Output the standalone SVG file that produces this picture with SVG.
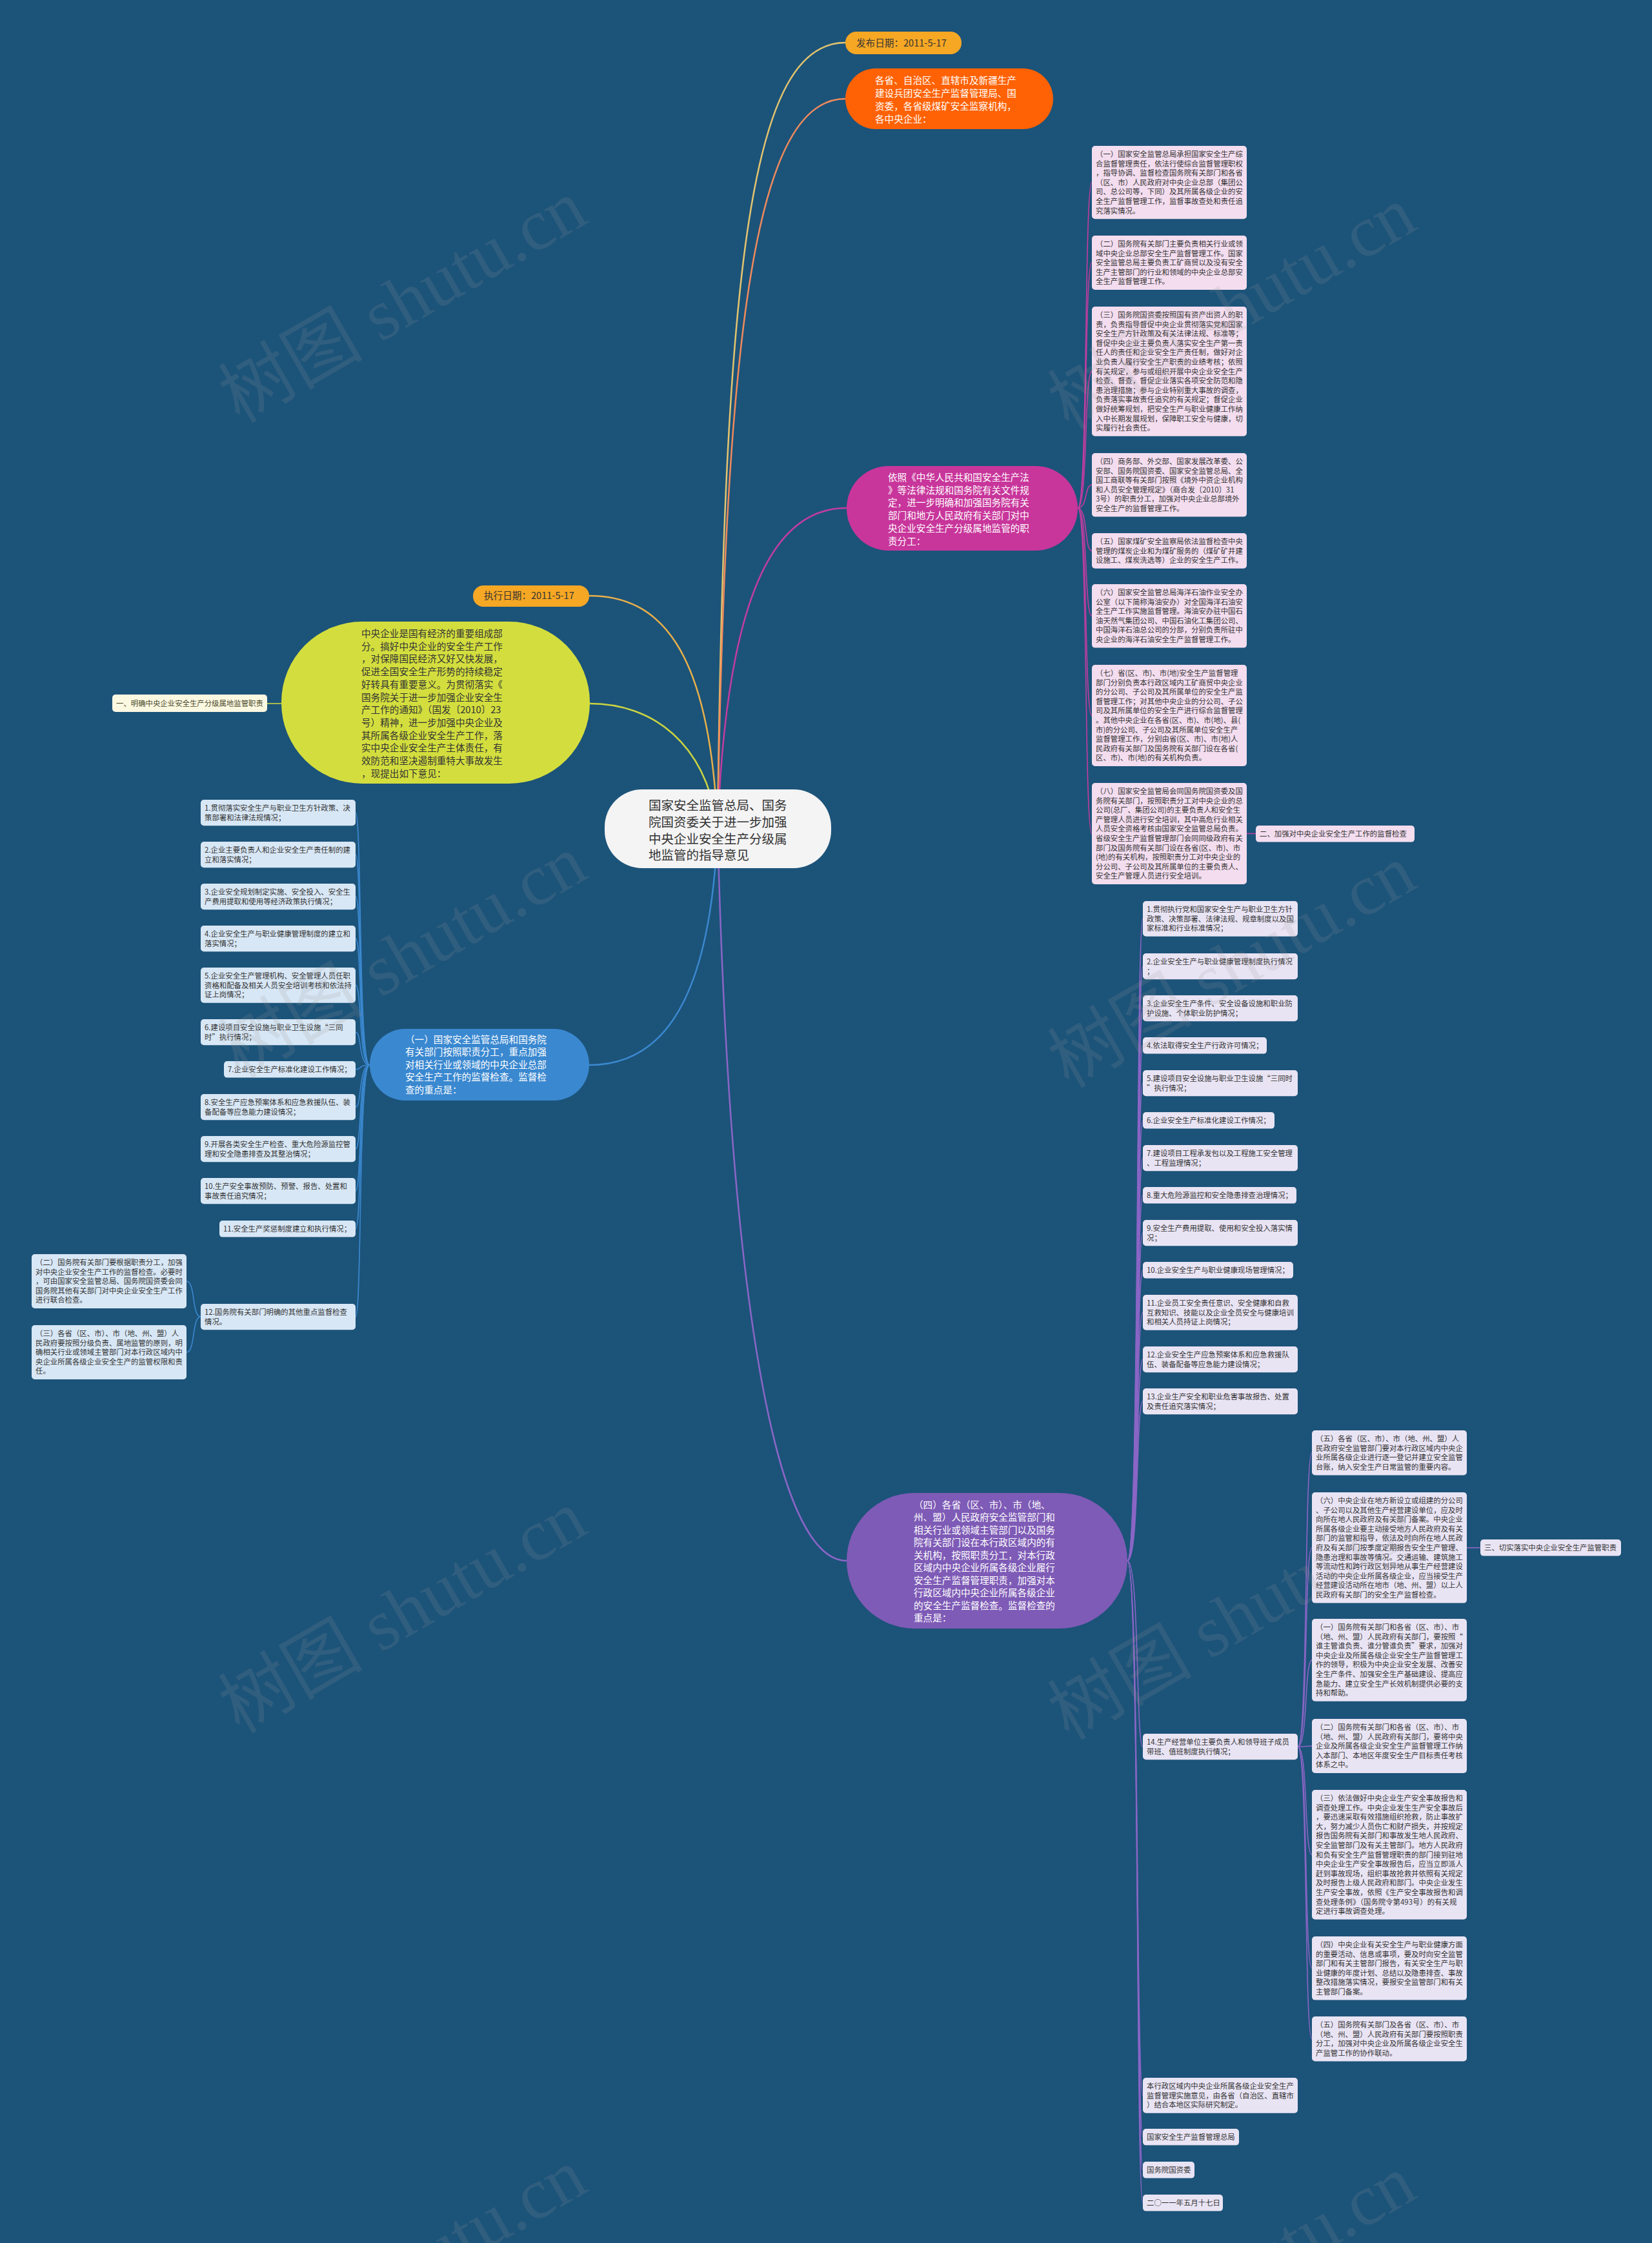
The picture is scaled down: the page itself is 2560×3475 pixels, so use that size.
<svg xmlns="http://www.w3.org/2000/svg" width="2560" height="3475" viewBox="0 0 2560 3475">
<style>
text{font-family:"Noto Sans CJK SC","Noto Sans",sans-serif}
.s{font-size:11.4px;fill:#333}
.b{font-size:14.6px;fill:#fff}
.bd{font-size:14.6px;fill:#333}
.r{font-size:19.5px;fill:#333}
.pk{fill:#f3ddef}
.lb{fill:#d8e7f5}
.lv{fill:#e9e4f4}
.cm{fill:none;stroke:#c23d9f;stroke-width:1.6}
.cp{fill:none;stroke:#8a66c6;stroke-width:1.6}
.cb{fill:none;stroke:#3b88cf;stroke-width:1.6}
.wm{font-family:"Liberation Serif","Noto Sans CJK SC",serif;font-size:112px;fill:#9a9a9a;opacity:0.16}
</style>
<rect width="2560" height="3475" fill="#1c5379"/>
<g id="connectors">
<path d="M1112 1284 C1122 400 1165 66 1310 66" fill="none" stroke="#e3c46e" stroke-width="2.5"/>
<path d="M1112 1284 C1124 500 1172 153 1310 153" fill="none" stroke="#ef8a5c" stroke-width="2.5"/>
<path d="M1112 1284 C1126 920 1200 787 1312 787" fill="none" stroke="#c23d9f" stroke-width="2.5"/>
<path d="M1112 1284 C1130 2000 1200 2418 1312 2418" fill="none" stroke="#8a66c6" stroke-width="2.5"/>
<path d="M1112 1284 C1100 1000 1020 923 913 923" fill="none" stroke="#e8b04a" stroke-width="2.5"/>
<path d="M1112 1284 C1095 1150 1010 1090 914 1090" fill="none" stroke="#c9d441" stroke-width="2.5"/>
<path d="M1112 1284 C1100 1580 1010 1650 913 1650" fill="none" stroke="#3b88cf" stroke-width="2.5"/>
<path d="M436 1090 L413 1090" fill="none" stroke="#c9d441" stroke-width="1.6"/>
<path class="cm" d="M1670 787 C1686 787 1680 282.6 1692 282.6"/>
<path class="cm" d="M1670 787 C1686 787 1680 407 1692 407"/>
<path class="cm" d="M1670 787 C1686 787 1680 575.4 1692 575.4"/>
<path class="cm" d="M1670 787 C1686 787 1680 751.3 1692 751.3"/>
<path class="cm" d="M1670 787 C1686 787 1680 853.4 1692 853.4"/>
<path class="cm" d="M1670 787 C1686 787 1680 954.3 1692 954.3"/>
<path class="cm" d="M1670 787 C1686 787 1680 1108.5 1692 1108.5"/>
<path class="cm" d="M1670 787 C1686 787 1680 1291.5 1692 1291.5"/>
<path class="cm" d="M1932 1291.5 L1946 1291.5"/>
<path class="cp" d="M1747 2418 C1766 2418 1760 1423.4 1771 1423.4"/>
<path class="cp" d="M1747 2418 C1766 2418 1760 1497.1 1771 1497.1"/>
<path class="cp" d="M1747 2418 C1766 2418 1760 1562.1 1771 1562.1"/>
<path class="cp" d="M1747 2418 C1766 2418 1760 1619.8 1771 1619.8"/>
<path class="cp" d="M1747 2418 C1766 2418 1760 1678.1 1771 1678.1"/>
<path class="cp" d="M1747 2418 C1766 2418 1760 1735.8 1771 1735.8"/>
<path class="cp" d="M1747 2418 C1766 2418 1760 1794.1 1771 1794.1"/>
<path class="cp" d="M1747 2418 C1766 2418 1760 1851.8 1771 1851.8"/>
<path class="cp" d="M1747 2418 C1766 2418 1760 1910.1 1771 1910.1"/>
<path class="cp" d="M1747 2418 C1766 2418 1760 1967.8 1771 1967.8"/>
<path class="cp" d="M1747 2418 C1766 2418 1760 2033.4 1771 2033.4"/>
<path class="cp" d="M1747 2418 C1766 2418 1760 2106.1 1771 2106.1"/>
<path class="cp" d="M1747 2418 C1766 2418 1760 2171.1 1771 2171.1"/>
<path class="cp" d="M1747 2418 C1766 2418 1760 2706.1 1771 2706.1"/>
<path class="cp" d="M1747 2418 C1766 2418 1760 3246.4 1771 3246.4"/>
<path class="cp" d="M1747 2418 C1766 2418 1760 3310.8 1771 3310.8"/>
<path class="cp" d="M1747 2418 C1766 2418 1760 3361.8 1771 3361.8"/>
<path class="cp" d="M1747 2418 C1766 2418 1760 3412.8 1771 3412.8"/>
<path class="cp" d="M2011 2706 C2027 2706 2021 2250.7 2033 2250.7"/>
<path class="cp" d="M2011 2706 C2027 2706 2021 2397.8 2033 2397.8"/>
<path class="cp" d="M2011 2706 C2027 2706 2021 2571.9 2033 2571.9"/>
<path class="cp" d="M2011 2706 C2027 2706 2021 2705 2033 2705"/>
<path class="cp" d="M2011 2706 C2027 2706 2021 2873.4 2033 2873.4"/>
<path class="cp" d="M2011 2706 C2027 2706 2021 3049.3 2033 3049.3"/>
<path class="cp" d="M2011 2706 C2027 2706 2021 3158.7 2033 3158.7"/>
<path class="cp" d="M2273 2397.8 L2294 2397.8"/>
<path class="cb" d="M573 1650 C555 1650 561 1259.1 551 1259.1"/>
<path class="cb" d="M573 1650 C555 1650 561 1324.1 551 1324.1"/>
<path class="cb" d="M573 1650 C555 1650 561 1389.1 551 1389.1"/>
<path class="cb" d="M573 1650 C555 1650 561 1454.1 551 1454.1"/>
<path class="cb" d="M573 1650 C555 1650 561 1526.4 551 1526.4"/>
<path class="cb" d="M573 1650 C555 1650 561 1599.1 551 1599.1"/>
<path class="cb" d="M573 1650 C555 1650 561 1656.8 551 1656.8"/>
<path class="cb" d="M573 1650 C555 1650 561 1715.1 551 1715.1"/>
<path class="cb" d="M573 1650 C555 1650 561 1780.1 551 1780.1"/>
<path class="cb" d="M573 1650 C555 1650 561 1845.1 551 1845.1"/>
<path class="cb" d="M573 1650 C555 1650 561 1903.8 551 1903.8"/>
<path class="cb" d="M573 1650 C555 1650 561 2040.1 551 2040.1"/>
<path class="cb" d="M311 2040 C297 2040 303 1985 289 1985"/>
<path class="cb" d="M311 2040 C297 2040 303 2095 289 2095"/>
</g>

<g id="root">
<rect x="937" y="1223" width="351" height="122" rx="58" fill="#f4f4f4"/>
<text class="r" x="1005" y="1255"><tspan x="1005">国家安全监管总局、国务</tspan><tspan x="1005" dy="25.8">院国资委关于进一步加强</tspan><tspan x="1005" dy="25.8">中央企业安全生产分级属</tspan><tspan x="1005" dy="25.8">地监管的指导意见</tspan></text>
</g>

<g id="n-publish">
<rect x="1310" y="49" width="180" height="35" rx="17" fill="#f6a724"/>
<text class="bd" x="1327" y="72">发布日期：2011-5-17</text>
</g>
<g id="n-orange">
<rect x="1310" y="106" width="322" height="94" rx="47" fill="#fe6205"/>
<text class="b" x="1356" y="130"><tspan x="1356">各省、自治区、直辖市及新疆生产</tspan><tspan x="1356" dy="20">建设兵团安全生产监督管理局、国</tspan><tspan x="1356" dy="20">资委，各省级煤矿安全监察机构，</tspan><tspan x="1356" dy="20">各中央企业：</tspan></text>
</g>
<g id="n-magenta">
<rect x="1312" y="722" width="358" height="131" rx="65" fill="#c8369b"/>
<text class="b" x="1376" y="745"><tspan x="1376">依照《中华人民共和国安全生产法</tspan><tspan x="1376" dy="19.7">》等法律法规和国务院有关文件规</tspan><tspan x="1376" dy="19.7">定，进一步明确和加强国务院有关</tspan><tspan x="1376" dy="19.7">部门和地方人民政府有关部门对中</tspan><tspan x="1376" dy="19.7">央企业安全生产分级属地监管的职</tspan><tspan x="1376" dy="19.7">责分工：</tspan></text>
</g>

<g id="m1"><rect class="pk" x="1692" y="226" width="240" height="113.2" rx="5"/>
<text class="s" x="1698" y="243"><tspan x="1698">（一）国家安全监管总局承担国家安全生产综</tspan><tspan x="1698" dy="14.6">合监督管理责任，依法行使综合监督管理职权</tspan><tspan x="1698" dy="14.6">，指导协调、监督检查国务院有关部门和各省</tspan><tspan x="1698" dy="14.6">（区、市）人民政府对中央企业总部（集团公</tspan><tspan x="1698" dy="14.6">司、总公司等，下同）及其所属各级企业的安</tspan><tspan x="1698" dy="14.6">全生产监督管理工作，监督事故查处和责任追</tspan><tspan x="1698" dy="14.6">究落实情况。</tspan></text></g>
<g id="m2"><rect class="pk" x="1692" y="365" width="240" height="84" rx="5"/>
<text class="s" x="1698" y="382"><tspan x="1698">（二）国务院有关部门主要负责相关行业或领</tspan><tspan x="1698" dy="14.6">域中央企业总部安全生产监督管理工作。国家</tspan><tspan x="1698" dy="14.6">安全监管总局主要负责工矿商贸以及没有安全</tspan><tspan x="1698" dy="14.6">生产主管部门的行业和领域的中央企业总部安</tspan><tspan x="1698" dy="14.6">全生产监督管理工作。</tspan></text></g>
<g id="m3"><rect class="pk" x="1692" y="475" width="240" height="200.8" rx="5"/>
<text class="s" x="1698" y="492"><tspan x="1698">（三）国务院国资委按照国有资产出资人的职</tspan><tspan x="1698" dy="14.6">责，负责指导督促中央企业贯彻落实党和国家</tspan><tspan x="1698" dy="14.6">安全生产方针政策及有关法律法规、标准等；</tspan><tspan x="1698" dy="14.6">督促中央企业主要负责人落实安全生产第一责</tspan><tspan x="1698" dy="14.6">任人的责任和企业安全生产责任制，做好对企</tspan><tspan x="1698" dy="14.6">业负责人履行安全生产职责的业绩考核；依照</tspan><tspan x="1698" dy="14.6">有关规定，参与或组织开展中央企业安全生产</tspan><tspan x="1698" dy="14.6">检查、督查，督促企业落实各项安全防范和隐</tspan><tspan x="1698" dy="14.6">患治理措施；参与企业特别重大事故的调查，</tspan><tspan x="1698" dy="14.6">负责落实事故责任追究的有关规定；督促企业</tspan><tspan x="1698" dy="14.6">做好统筹规划，把安全生产与职业健康工作纳</tspan><tspan x="1698" dy="14.6">入中长期发展规划，保障职工安全与健康，切</tspan><tspan x="1698" dy="14.6">实履行社会责任。</tspan></text></g>
<g id="m4"><rect class="pk" x="1692" y="702" width="240" height="98.6" rx="5"/>
<text class="s" x="1698" y="719"><tspan x="1698">（四）商务部、外交部、国家发展改革委、公</tspan><tspan x="1698" dy="14.6">安部、国务院国资委、国家安全监管总局、全</tspan><tspan x="1698" dy="14.6">国工商联等有关部门按照《境外中资企业机构</tspan><tspan x="1698" dy="14.6">和人员安全管理规定》（商合发〔2010〕31</tspan><tspan x="1698" dy="14.6">3号）的职责分工，加强对中央企业总部境外</tspan><tspan x="1698" dy="14.6">安全生产的监督管理工作。</tspan></text></g>
<g id="m5"><rect class="pk" x="1692" y="826" width="240" height="54.8" rx="5"/>
<text class="s" x="1698" y="843"><tspan x="1698">（五）国家煤矿安全监察局依法监督检查中央</tspan><tspan x="1698" dy="14.6">管理的煤炭企业和为煤矿服务的（煤矿矿井建</tspan><tspan x="1698" dy="14.6">设施工、煤炭洗选等）企业的安全生产工作。</tspan></text></g>
<g id="m6"><rect class="pk" x="1692" y="905" width="240" height="98.6" rx="5"/>
<text class="s" x="1698" y="922"><tspan x="1698">（六）国家安全监管总局海洋石油作业安全办</tspan><tspan x="1698" dy="14.6">公室（以下简称海油安办）对全国海洋石油安</tspan><tspan x="1698" dy="14.6">全生产工作实施监督管理。海油安办驻中国石</tspan><tspan x="1698" dy="14.6">油天然气集团公司、中国石油化工集团公司、</tspan><tspan x="1698" dy="14.6">中国海洋石油总公司的分部，分别负责所驻中</tspan><tspan x="1698" dy="14.6">央企业的海洋石油安全生产监督管理工作。</tspan></text></g>
<g id="m7"><rect class="pk" x="1692" y="1030" width="240" height="157" rx="5"/>
<text class="s" x="1698" y="1047"><tspan x="1698">（七）省(区、市)、市(地)安全生产监督管理</tspan><tspan x="1698" dy="14.6">部门分别负责本行政区域内工矿商贸中央企业</tspan><tspan x="1698" dy="14.6">的分公司、子公司及其所属单位的安全生产监</tspan><tspan x="1698" dy="14.6">督管理工作；对其他中央企业的分公司、子公</tspan><tspan x="1698" dy="14.6">司及其所属单位的安全生产进行综合监督管理</tspan><tspan x="1698" dy="14.6">。其他中央企业在各省(区、市)、市(地)、县(</tspan><tspan x="1698" dy="14.6">市)的分公司、子公司及其所属单位安全生产</tspan><tspan x="1698" dy="14.6">监督管理工作，分别由省(区、市)、市(地)人</tspan><tspan x="1698" dy="14.6">民政府有关部门及国务院有关部门设在各省(</tspan><tspan x="1698" dy="14.6">区、市)、市(地)的有关机构负责。</tspan></text></g>
<g id="m8"><rect class="pk" x="1692" y="1213" width="240" height="157" rx="5"/>
<text class="s" x="1698" y="1230"><tspan x="1698">（八）国家安全监管局会同国务院国资委及国</tspan><tspan x="1698" dy="14.6">务院有关部门，按照职责分工对中央企业的总</tspan><tspan x="1698" dy="14.6">公司(总厂、集团公司)的主要负责人和安全生</tspan><tspan x="1698" dy="14.6">产管理人员进行安全培训，其中高危行业相关</tspan><tspan x="1698" dy="14.6">人员安全资格考核由国家安全监管总局负责。</tspan><tspan x="1698" dy="14.6">省级安全生产监督管理部门会同同级政府有关</tspan><tspan x="1698" dy="14.6">部门及国务院有关部门设在各省(区、市)、市</tspan><tspan x="1698" dy="14.6">(地)的有关机构，按照职责分工对中央企业的</tspan><tspan x="1698" dy="14.6">分公司、子公司及其所属单位的主要负责人、</tspan><tspan x="1698" dy="14.6">安全生产管理人员进行安全培训。</tspan></text></g>
<g id="sec2"><rect class="pk" x="1946" y="1279" width="246" height="25.6" rx="5"/>
<text class="s" x="1952" y="1296">二、加强对中央企业安全生产工作的监督检查</text></g>

<g id="n-exec">
<rect x="733" y="907" width="180" height="33" rx="16" fill="#f6a724"/>
<text class="bd" x="750" y="928">执行日期：2011-5-17</text>
</g>
<g id="n-yellow">
<rect x="436" y="963" width="478" height="251" rx="125" fill="#d3de3e"/>
<text class="bd" x="560" y="987"><tspan x="560">中央企业是国有经济的重要组成部</tspan><tspan x="560" dy="19.7">分。搞好中央企业的安全生产工作</tspan><tspan x="560" dy="19.7">，对保障国民经济又好又快发展，</tspan><tspan x="560" dy="19.7">促进全国安全生产形势的持续稳定</tspan><tspan x="560" dy="19.7">好转具有重要意义。为贯彻落实《</tspan><tspan x="560" dy="19.7">国务院关于进一步加强企业安全生</tspan><tspan x="560" dy="19.7">产工作的通知》（国发〔2010〕23</tspan><tspan x="560" dy="19.7">号）精神，进一步加强中央企业及</tspan><tspan x="560" dy="19.7">其所属各级企业安全生产工作，落</tspan><tspan x="560" dy="19.7">实中央企业安全生产主体责任，有</tspan><tspan x="560" dy="19.7">效防范和坚决遏制重特大事故发生</tspan><tspan x="560" dy="19.7">，现提出如下意见：</tspan></text>
</g>
<g id="sec1"><rect x="174" y="1076" width="240" height="27" rx="5" fill="#fbf8e2"/>
<text class="s" x="180" y="1094" style="fill:#4a4a2a">一、明确中央企业安全生产分级属地监管职责</text></g>

<g id="n-blue">
<rect x="573" y="1594" width="340" height="111" rx="55" fill="#3a88d0"/>
<text class="b" x="628" y="1616"><tspan x="628">（一）国家安全监管总局和国务院</tspan><tspan x="628" dy="19.4">有关部门按照职责分工，重点加强</tspan><tspan x="628" dy="19.4">对相关行业或领域的中央企业总部</tspan><tspan x="628" dy="19.4">安全生产工作的监督检查。监督检</tspan><tspan x="628" dy="19.4">查的重点是：</tspan></text>
</g>
<g id="b1"><rect class="lb" x="311" y="1239" width="240" height="40.2" rx="5"/><text class="s" x="317" y="1256"><tspan x="317">1.贯彻落实安全生产与职业卫生方针政策、决</tspan><tspan x="317" dy="14.6">策部署和法律法规情况；</tspan></text></g>
<g id="b2"><rect class="lb" x="311" y="1304" width="240" height="40.2" rx="5"/><text class="s" x="317" y="1321"><tspan x="317">2.企业主要负责人和企业安全生产责任制的建</tspan><tspan x="317" dy="14.6">立和落实情况；</tspan></text></g>
<g id="b3"><rect class="lb" x="311" y="1369" width="240" height="40.2" rx="5"/><text class="s" x="317" y="1386"><tspan x="317">3.企业安全规划制定实施、安全投入、安全生</tspan><tspan x="317" dy="14.6">产费用提取和使用等经济政策执行情况；</tspan></text></g>
<g id="b4"><rect class="lb" x="311" y="1434" width="240" height="40.2" rx="5"/><text class="s" x="317" y="1451"><tspan x="317">4.企业安全生产与职业健康管理制度的建立和</tspan><tspan x="317" dy="14.6">落实情况；</tspan></text></g>
<g id="b5"><rect class="lb" x="311" y="1499" width="240" height="54.8" rx="5"/><text class="s" x="317" y="1516"><tspan x="317">5.企业安全生产管理机构、安全管理人员任职</tspan><tspan x="317" dy="14.6">资格和配备及相关人员安全培训考核和依法持</tspan><tspan x="317" dy="14.6">证上岗情况；</tspan></text></g>
<g id="b6"><rect class="lb" x="311" y="1579" width="240" height="40.2" rx="5"/><text class="s" x="317" y="1596"><tspan x="317">6.建设项目安全设施与职业卫生设施“三同</tspan><tspan x="317" dy="14.6">时”执行情况；</tspan></text></g>
<g id="b7"><rect class="lb" x="347" y="1644" width="204" height="25.6" rx="5"/><text class="s" x="353" y="1661">7.企业安全生产标准化建设工作情况；</text></g>
<g id="b8"><rect class="lb" x="311" y="1695" width="240" height="40.2" rx="5"/><text class="s" x="317" y="1712"><tspan x="317">8.安全生产应急预案体系和应急救援队伍、装</tspan><tspan x="317" dy="14.6">备配备等应急能力建设情况；</tspan></text></g>
<g id="b9"><rect class="lb" x="311" y="1760" width="240" height="40.2" rx="5"/><text class="s" x="317" y="1777"><tspan x="317">9.开展各类安全生产检查、重大危险源监控管</tspan><tspan x="317" dy="14.6">理和安全隐患排查及其整治情况；</tspan></text></g>
<g id="b10"><rect class="lb" x="311" y="1825" width="240" height="40.2" rx="5"/><text class="s" x="317" y="1842"><tspan x="317">10.生产安全事故预防、预警、报告、处置和</tspan><tspan x="317" dy="14.6">事故责任追究情况；</tspan></text></g>
<g id="b11"><rect class="lb" x="340" y="1891" width="211" height="25.6" rx="5"/><text class="s" x="346" y="1908">11.安全生产奖惩制度建立和执行情况；</text></g>
<g id="b12"><rect class="lb" x="311" y="2020" width="240" height="40.2" rx="5"/><text class="s" x="317" y="2037"><tspan x="317">12.国务院有关部门明确的其他重点监督检查</tspan><tspan x="317" dy="14.6">情况。</tspan></text></g>
<g id="bl2"><rect class="lb" x="49" y="1943" width="240" height="84" rx="5"/><text class="s" x="55" y="1960"><tspan x="55">（二）国务院有关部门要根据职责分工，加强</tspan><tspan x="55" dy="14.6">对中央企业安全生产工作的监督检查。必要时</tspan><tspan x="55" dy="14.6">，可由国家安全监管总局、国务院国资委会同</tspan><tspan x="55" dy="14.6">国务院其他有关部门对中央企业安全生产工作</tspan><tspan x="55" dy="14.6">进行联合检查。</tspan></text></g>
<g id="bl3"><rect class="lb" x="49" y="2053" width="240" height="84" rx="5"/><text class="s" x="55" y="2070"><tspan x="55">（三）各省（区、市）、市（地、州、盟）人</tspan><tspan x="55" dy="14.6">民政府要按照分级负责、属地监管的原则，明</tspan><tspan x="55" dy="14.6">确相关行业或领域主管部门对本行政区域内中</tspan><tspan x="55" dy="14.6">央企业所属各级企业安全生产的监管权限和责</tspan><tspan x="55" dy="14.6">任。</tspan></text></g>

<g id="n-purple">
<rect x="1312" y="2313" width="435" height="210" rx="105" fill="#7e5bb6"/>
<text class="b" x="1416" y="2337"><tspan x="1416">（四）各省（区、市）、市（地、</tspan><tspan x="1416" dy="19.45">州、盟）人民政府安全监管部门和</tspan><tspan x="1416" dy="19.45">相关行业或领域主管部门以及国务</tspan><tspan x="1416" dy="19.45">院有关部门设在本行政区域内的有</tspan><tspan x="1416" dy="19.45">关机构，按照职责分工，对本行政</tspan><tspan x="1416" dy="19.45">区域内中央企业所属各级企业履行</tspan><tspan x="1416" dy="19.45">安全生产监督管理职责，加强对本</tspan><tspan x="1416" dy="19.45">行政区域内中央企业所属各级企业</tspan><tspan x="1416" dy="19.45">的安全生产监督检查。监督检查的</tspan><tspan x="1416" dy="19.45">重点是：</tspan></text>
</g>
<g id="p1"><rect class="lv" x="1771" y="1396" width="240" height="54.8" rx="5"/><text class="s" x="1777" y="1413"><tspan x="1777">1.贯彻执行党和国家安全生产与职业卫生方针</tspan><tspan x="1777" dy="14.6">政策、决策部署、法律法规、规章制度以及国</tspan><tspan x="1777" dy="14.6">家标准和行业标准情况；</tspan></text></g>
<g id="p2"><rect class="lv" x="1771" y="1477" width="240" height="40.2" rx="5"/><text class="s" x="1777" y="1494"><tspan x="1777">2.企业安全生产与职业健康管理制度执行情况</tspan><tspan x="1777" dy="14.6">；</tspan></text></g>
<g id="p3"><rect class="lv" x="1771" y="1542" width="240" height="40.2" rx="5"/><text class="s" x="1777" y="1559"><tspan x="1777">3.企业安全生产条件、安全设备设施和职业防</tspan><tspan x="1777" dy="14.6">护设施、个体职业防护情况；</tspan></text></g>
<g id="p4"><rect class="lv" x="1771" y="1607" width="192" height="25.6" rx="5"/><text class="s" x="1777" y="1624">4.依法取得安全生产行政许可情况；</text></g>
<g id="p5"><rect class="lv" x="1771" y="1658" width="240" height="40.2" rx="5"/><text class="s" x="1777" y="1675"><tspan x="1777">5.建设项目安全设施与职业卫生设施“三同时</tspan><tspan x="1777" dy="14.6">”执行情况；</tspan></text></g>
<g id="p6"><rect class="lv" x="1771" y="1723" width="204" height="25.6" rx="5"/><text class="s" x="1777" y="1740">6.企业安全生产标准化建设工作情况；</text></g>
<g id="p7"><rect class="lv" x="1771" y="1774" width="240" height="40.2" rx="5"/><text class="s" x="1777" y="1791"><tspan x="1777">7.建设项目工程承发包以及工程施工安全管理</tspan><tspan x="1777" dy="14.6">、工程监理情况；</tspan></text></g>
<g id="p8"><rect class="lv" x="1771" y="1839" width="238" height="25.6" rx="5"/><text class="s" x="1777" y="1856">8.重大危险源监控和安全隐患排查治理情况；</text></g>
<g id="p9"><rect class="lv" x="1771" y="1890" width="240" height="40.2" rx="5"/><text class="s" x="1777" y="1907"><tspan x="1777">9.安全生产费用提取、使用和安全投入落实情</tspan><tspan x="1777" dy="14.6">况；</tspan></text></g>
<g id="p10"><rect class="lv" x="1771" y="1955" width="233" height="25.6" rx="5"/><text class="s" x="1777" y="1972">10.企业安全生产与职业健康现场管理情况；</text></g>
<g id="p11"><rect class="lv" x="1771" y="2006" width="240" height="54.8" rx="5"/><text class="s" x="1777" y="2023"><tspan x="1777">11.企业员工安全责任意识、安全健康和自救</tspan><tspan x="1777" dy="14.6">互救知识、技能以及企业全员安全与健康培训</tspan><tspan x="1777" dy="14.6">和相关人员持证上岗情况；</tspan></text></g>
<g id="p12"><rect class="lv" x="1771" y="2086" width="240" height="40.2" rx="5"/><text class="s" x="1777" y="2103"><tspan x="1777">12.企业安全生产应急预案体系和应急救援队</tspan><tspan x="1777" dy="14.6">伍、装备配备等应急能力建设情况；</tspan></text></g>
<g id="p13"><rect class="lv" x="1771" y="2151" width="240" height="40.2" rx="5"/><text class="s" x="1777" y="2168"><tspan x="1777">13.企业生产安全和职业危害事故报告、处置</tspan><tspan x="1777" dy="14.6">及责任追究落实情况；</tspan></text></g>
<g id="p14"><rect class="lv" x="1771" y="2686" width="240" height="40.2" rx="5"/><text class="s" x="1777" y="2703"><tspan x="1777">14.生产经营单位主要负责人和领导班子成员</tspan><tspan x="1777" dy="14.6">带班、值班制度执行情况；</tspan></text></g>
<g id="p15"><rect class="lv" x="1771" y="3219" width="240" height="54.8" rx="5"/><text class="s" x="1777" y="3236"><tspan x="1777">本行政区域内中央企业所属各级企业安全生产</tspan><tspan x="1777" dy="14.6">监督管理实施意见，由各省（自治区、直辖市</tspan><tspan x="1777" dy="14.6">）结合本地区实际研究制定。</tspan></text></g>
<g id="p16"><rect class="lv" x="1771" y="3298" width="149" height="25.6" rx="5"/><text class="s" x="1777" y="3315">国家安全生产监督管理总局</text></g>
<g id="p17"><rect class="lv" x="1771" y="3349" width="80" height="25.6" rx="5"/><text class="s" x="1777" y="3366">国务院国资委</text></g>
<g id="p18"><rect class="lv" x="1771" y="3400" width="124" height="25.6" rx="5"/><text class="s" x="1777" y="3417">二○一一年五月十七日</text></g>

<g id="q5"><rect class="lv" x="2033" y="2216" width="240" height="69.4" rx="5"/><text class="s" x="2039" y="2233"><tspan x="2039">（五）各省（区、市）、市（地、州、盟）人</tspan><tspan x="2039" dy="14.6">民政府安全监管部门要对本行政区域内中央企</tspan><tspan x="2039" dy="14.6">业所属各级企业进行逐一登记并建立安全监管</tspan><tspan x="2039" dy="14.6">台账，纳入安全生产日常监管的重要内容。</tspan></text></g>
<g id="q6"><rect class="lv" x="2033" y="2312" width="240" height="171.6" rx="5"/><text class="s" x="2039" y="2329"><tspan x="2039">（六）中央企业在地方新设立或组建的分公司</tspan><tspan x="2039" dy="14.6">、子公司以及其他生产经营建设单位，应及时</tspan><tspan x="2039" dy="14.6">向所在地人民政府及有关部门备案。中央企业</tspan><tspan x="2039" dy="14.6">所属各级企业要主动接受地方人民政府及有关</tspan><tspan x="2039" dy="14.6">部门的监管和指导，依法及时向所在地人民政</tspan><tspan x="2039" dy="14.6">府及有关部门按季度定期报告安全生产管理、</tspan><tspan x="2039" dy="14.6">隐患治理和事故等情况。交通运输、建筑施工</tspan><tspan x="2039" dy="14.6">等流动性和跨行政区划异地从事生产经营建设</tspan><tspan x="2039" dy="14.6">活动的中央企业所属各级企业，应当接受生产</tspan><tspan x="2039" dy="14.6">经营建设活动所在地市（地、州、盟）以上人</tspan><tspan x="2039" dy="14.6">民政府有关部门的安全生产监督检查。</tspan></text></g>
<g id="sec3"><rect class="lv" x="2294" y="2385" width="218" height="25.6" rx="5"/><text class="s" x="2300" y="2402">三、切实落实中央企业安全生产监管职责</text></g>
<g id="q1"><rect class="lv" x="2033" y="2508" width="240" height="127.8" rx="5"/><text class="s" x="2039" y="2525"><tspan x="2039">（一）国务院有关部门和各省（区、市）、市</tspan><tspan x="2039" dy="14.6">（地、州、盟）人民政府有关部门，要按照“</tspan><tspan x="2039" dy="14.6">谁主管谁负责、谁分管谁负责”要求，加强对</tspan><tspan x="2039" dy="14.6">中央企业及所属各级企业安全生产监督管理工</tspan><tspan x="2039" dy="14.6">作的领导，积极为中央企业安全发展、改善安</tspan><tspan x="2039" dy="14.6">全生产条件、加强安全生产基础建设、提高应</tspan><tspan x="2039" dy="14.6">急能力、建立安全生产长效机制提供必要的支</tspan><tspan x="2039" dy="14.6">持和帮助。</tspan></text></g>
<g id="q2"><rect class="lv" x="2033" y="2663" width="240" height="84" rx="5"/><text class="s" x="2039" y="2680"><tspan x="2039">（二）国务院有关部门和各省（区、市）、市</tspan><tspan x="2039" dy="14.6">（地、州、盟）人民政府有关部门，要将中央</tspan><tspan x="2039" dy="14.6">企业及所属各级企业安全生产监督管理工作纳</tspan><tspan x="2039" dy="14.6">入本部门、本地区年度安全生产目标责任考核</tspan><tspan x="2039" dy="14.6">体系之中。</tspan></text></g>
<g id="q3"><rect class="lv" x="2033" y="2773" width="240" height="200.8" rx="5"/><text class="s" x="2039" y="2790"><tspan x="2039">（三）依法做好中央企业生产安全事故报告和</tspan><tspan x="2039" dy="14.6">调查处理工作。中央企业发生生产安全事故后</tspan><tspan x="2039" dy="14.6">，要迅速采取有效措施组织抢救，防止事故扩</tspan><tspan x="2039" dy="14.6">大，努力减少人员伤亡和财产损失，并按规定</tspan><tspan x="2039" dy="14.6">报告国务院有关部门和事故发生地人民政府、</tspan><tspan x="2039" dy="14.6">安全监管部门及有关主管部门。地方人民政府</tspan><tspan x="2039" dy="14.6">和负有安全生产监督管理职责的部门接到驻地</tspan><tspan x="2039" dy="14.6">中央企业生产安全事故报告后，应当立即派人</tspan><tspan x="2039" dy="14.6">赶到事故现场，组织事故抢救并依照有关规定</tspan><tspan x="2039" dy="14.6">及时报告上级人民政府和部门。中央企业发生</tspan><tspan x="2039" dy="14.6">生产安全事故，依照《生产安全事故报告和调</tspan><tspan x="2039" dy="14.6">查处理条例》（国务院令第493号）的有关规</tspan><tspan x="2039" dy="14.6">定进行事故调查处理。</tspan></text></g>
<g id="q4"><rect class="lv" x="2033" y="3000" width="240" height="98.6" rx="5"/><text class="s" x="2039" y="3017"><tspan x="2039">（四）中央企业有关安全生产与职业健康方面</tspan><tspan x="2039" dy="14.6">的重要活动、信息或事项，要及时向安全监管</tspan><tspan x="2039" dy="14.6">部门和有关主管部门报告，有关安全生产与职</tspan><tspan x="2039" dy="14.6">业健康的年度计划、总结以及隐患排查、事故</tspan><tspan x="2039" dy="14.6">整改措施落实情况，要报安全监管部门和有关</tspan><tspan x="2039" dy="14.6">主管部门备案。</tspan></text></g>
<g id="q5b"><rect class="lv" x="2033" y="3124" width="240" height="69.4" rx="5"/><text class="s" x="2039" y="3141"><tspan x="2039">（五）国务院有关部门及各省（区、市）、市</tspan><tspan x="2039" dy="14.6">（地、州、盟）人民政府有关部门要按照职责</tspan><tspan x="2039" dy="14.6">分工，加强对中央企业及所属各级企业安全生</tspan><tspan x="2039" dy="14.6">产监管工作的协作联动。</tspan></text></g>

<g id="watermarks">
<text class="wm" text-anchor="middle" transform="translate(643 500) rotate(-30)">树图 shutu.cn</text>
<text class="wm" text-anchor="middle" transform="translate(1928 510) rotate(-30)">树图 shutu.cn</text>
<text class="wm" text-anchor="middle" transform="translate(643 1515) rotate(-30)">树图 shutu.cn</text>
<text class="wm" text-anchor="middle" transform="translate(1928 1530) rotate(-30)">树图 shutu.cn</text>
<text class="wm" text-anchor="middle" transform="translate(643 2530) rotate(-30)">树图 shutu.cn</text>
<text class="wm" text-anchor="middle" transform="translate(1928 2540) rotate(-30)">树图 shutu.cn</text>
<text class="wm" text-anchor="middle" transform="translate(643 3550) rotate(-30)">树图 shutu.cn</text>
<text class="wm" text-anchor="middle" transform="translate(1928 3560) rotate(-30)">树图 shutu.cn</text>
</g>
</svg>
